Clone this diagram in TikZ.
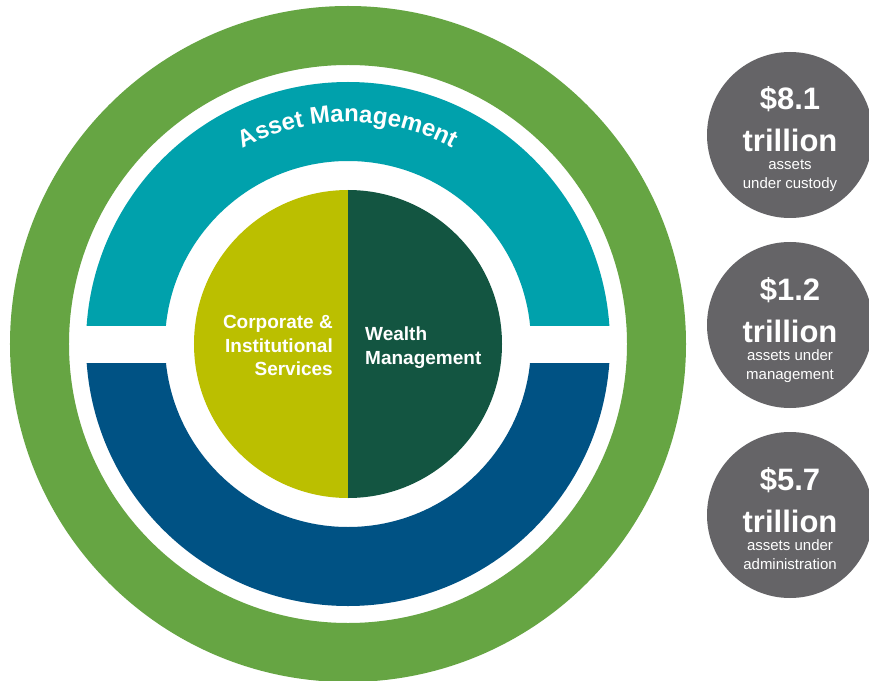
\documentclass[tikz,border=0pt]{standalone}
\usepackage{fontspec}
\setmainfont{Liberation Sans}
\usetikzlibrary{calc,decorations.text}

\definecolor{ringgreen}{HTML}{66A543}
\definecolor{amteal}{HTML}{00A1AC}
\definecolor{ambblue}{HTML}{005284}
\definecolor{cisyellow}{HTML}{BBBF00}
\definecolor{wmgreen}{HTML}{135541}
\definecolor{statgrey}{HTML}{656467}

\begin{document}
\begin{tikzpicture}[x=1pt,y=1pt,
  statcircle/.style={circle, fill=statgrey, minimum size=166pt, inner sep=0pt},
  bigfig/.style={font=\fontsize{31}{31}\selectfont\bfseries, text=white, anchor=base, inner sep=0pt},
  smallfig/.style={font=\fontsize{15}{15}\selectfont, text=white, anchor=base, inner sep=0pt},
  segtext/.style={font=\fontsize{19}{19}\selectfont\bfseries, text=white, inner sep=0pt}
]
\useasboundingbox (-348,-336) rectangle (521,344);
\clip (-348,-336) rectangle (521,344);
\fill[white] (-348,-336) rectangle (521,344);

\coordinate (o) at (0,0);

% outer green ring
\fill[ringgreen, even odd rule] (o) circle[radius=338] (o) circle[radius=279];

% upper half ring (teal) and lower half ring (blue), split by a white band
\begin{scope}
  \clip (-270,19) rectangle (270,270);
  \fill[amteal, even odd rule] (o) circle[radius=262] (o) circle[radius=183];
\end{scope}
\begin{scope}
  \clip (-270,-19) rectangle (270,-270);
  \fill[ambblue, even odd rule] (o) circle[radius=262] (o) circle[radius=183];
\end{scope}

% centre disc, split in two halves
\fill[cisyellow] (0,154) arc[start angle=90, end angle=270, radius=154] -- cycle;
\fill[wmgreen] (0,-154) arc[start angle=-90, end angle=90, radius=154] -- cycle;

% curved label on the teal ring
\path[decorate, decoration={text along path, text align=center, text color=white,
  text={|\fontsize{24}{28}\selectfont\bfseries|Asset Management}}]
  (150:222) arc[start angle=150, end angle=30, radius=222];

% labels of the two halves
\node[segtext, anchor=base east] (cis1) at (-15,16) {Corporate \&};
\node[segtext, anchor=base east] (cis2) at (-15,-8) {Institutional};
\node[segtext, anchor=base east] (cis3) at (-15,-31) {Services};
\node[segtext, anchor=base west] (wm1) at (17,4) {Wealth};
\node[segtext, anchor=base west] (wm2) at (17,-20) {Management};

% key figures
\node[statcircle] (c1) at (442,209) {};
\node[statcircle] (c2) at (442,19) {};
\node[statcircle] (c3) at (442,-171) {};

\node[bigfig] (c1a) at ($(c1)+(0,25)$) {\$8.1};
\node[bigfig] (c1b) at ($(c1)+(0,-17)$) {trillion};
\node[smallfig] (c1c) at ($(c1)+(0,-35)$) {assets};
\node[smallfig] (c1d) at ($(c1)+(0,-54)$) {under custody};

\node[bigfig] (c2a) at ($(c2)+(0,25)$) {\$1.2};
\node[bigfig] (c2b) at ($(c2)+(0,-17)$) {trillion};
\node[smallfig] (c2c) at ($(c2)+(0,-35)$) {assets under};
\node[smallfig] (c2d) at ($(c2)+(0,-54)$) {management};

\node[bigfig] (c3a) at ($(c3)+(0,25)$) {\$5.7};
\node[bigfig] (c3b) at ($(c3)+(0,-17)$) {trillion};
\node[smallfig] (c3c) at ($(c3)+(0,-35)$) {assets under};
\node[smallfig] (c3d) at ($(c3)+(0,-54)$) {administration};
\end{tikzpicture}
\end{document}
